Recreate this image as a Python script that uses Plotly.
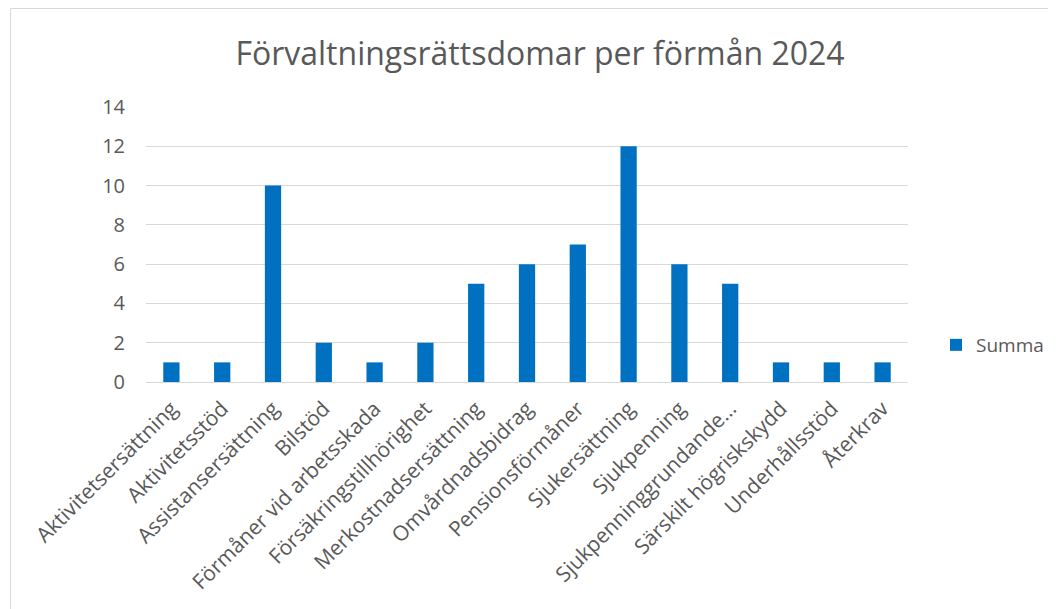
import plotly.graph_objects as go

categories = ["Aktivitetsersättning", "Aktivitetsstöd", "Assistansersättning", "Bilstöd",
              "Förmåner vid arbetsskada", "Försäkringstillhörighet", "Merkostnadsersättning",
              "Omvårdnadsbidrag", "Pensionsförmåner", "Sjukersättning", "Sjukpenning",
              "Sjukpenninggrundande…", "Särskilt högriskskydd", "Underhållsstöd", "Återkrav"]
summa = [1, 1, 10, 2, 1, 2, 5, 6, 7, 12, 6, 5, 1, 1, 1]
series_name = "Summa"
title_text = "Förvaltningsrättsdomar per förmån 2024"
y_ticks = [0, 2, 4, 6, 8, 10, 12, 14]

FONT = "Open Sans"
GREY = "#595959"
OFF = 8  # page body margin

W, H = 1056 - OFF, 609 - OFF
L, R = 146 - OFF, 148
T, B = 107 - OFF, 227
pw, ph = W - L - R, H - T - B


def px(x):  # page x -> paper
    return (x - OFF - L) / pw


def py(y):  # page y -> paper
    return (H - B - (y - OFF)) / ph


fig = go.Figure()
fig.add_trace(go.Bar(x=categories, y=summa, name=series_name,
                     marker=dict(color="#0070C0", line=dict(width=0))))

fig.update_layout(
    width=W, height=H,
    margin=dict(l=L, r=R, t=T, b=B, autoexpand=False),
    paper_bgcolor="white", plot_bgcolor="white",
    font=dict(family=FONT, color=GREY, size=19),
    title=dict(text=title_text, x=(540 - OFF) / W, xanchor="center", xref="container",
               y=1 - (54 - OFF) / H, yanchor="middle", yref="container",
               font=dict(family=FONT, size=32, color=GREY)),
    bargap=0.68,
    showlegend=True,
    legend=dict(x=px(936), xanchor="left", y=py(345), yanchor="middle",
                font=dict(family=FONT, size=19, color=GREY), itemwidth=30,
                bgcolor="rgba(0,0,0,0)"),
    xaxis=dict(type="category", tickangle=-45, showgrid=False, showline=True,
               linecolor="#D9D9D9", linewidth=1, ticks="",
               ticklabelstandoff=5,
               tickfont=dict(family=FONT, size=21, color=GREY)),
    yaxis=dict(range=[0, 14], tickvals=y_ticks, showgrid=True, gridcolor="#D9D9D9",
               gridwidth=1, zeroline=False, showline=False, ticks="",
               ticklabelstandoff=20,
               tickfont=dict(family=FONT, size=20, color=GREY)),
    shapes=[dict(type="rect", xref="paper", yref="paper",
                 x0=px(10.5), y0=py(700), x1=px(1200), y1=py(8.5),
                 line=dict(color="#D9D9D9", width=1), fillcolor="rgba(0,0,0,0)",
                 layer="below")],
)

fig.write_html("out.html")
